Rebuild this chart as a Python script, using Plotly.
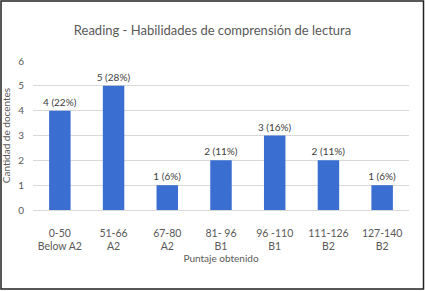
import plotly.graph_objects as go

ranges = ["0-50", "51-66", "67-80", "81- 96", "96 -110", "111-126", "127-140"]
levels = ["Below A2", "A2", "A2", "B1", "B1", "B2", "B2"]
counts = [4, 5, 1, 2, 3, 2, 1]
percents = ["22%", "28%", "6%", "11%", "16%", "11%", "6%"]

labels = [f"{r}<br>{l}" for r, l in zip(ranges, levels)]
texts = [f"{c} ({p})" for c, p in zip(counts, percents)]

W, H = 425, 291
L, R, T, B = 33, 16, 61, 81
pw, ph = W - L - R, H - T - B

fig = go.Figure(go.Bar(
    x=labels, y=counts, text=texts, textposition="outside",
    textfont=dict(size=10, color="#404040"), textangle=0,
    constraintext="none",
    marker=dict(color="#3A6ED0", line=dict(width=0)),
    cliponaxis=False,
))

fig.update_layout(
    width=W, height=H,
    margin=dict(l=L, r=R, t=T, b=B, autoexpand=False),
    paper_bgcolor="white", plot_bgcolor="white",
    font=dict(family="Lato, Liberation Sans, sans-serif", color="#595959", size=10),
    title=dict(text="Reading - Habilidades de comprensión de lectura",
               x=0.5, xref="container", y=1 - 30 / H, yref="container",
               xanchor="center", yanchor="middle",
               font=dict(size=13, color="#595959")),
    bargap=0.6,
    showlegend=False,
    xaxis=dict(title=dict(text="Puntaje obtenido", font=dict(size=10), standoff=2),
               tickfont=dict(size=10.5), showgrid=False, showline=True,
               linecolor="#d9d9d9", linewidth=1, ticks="", automargin=False,
               ticklabelstandoff=13),
    yaxis=dict(title=dict(text="Cantidad de docentes", font=dict(size=10), standoff=8),
               range=[0, 6], dtick=1, tickfont=dict(size=10),
               showgrid=True, gridcolor="#d9d9d9", zeroline=False,
               showline=False, ticks="", automargin=False, ticklabelstandoff=8),
    shapes=[dict(type="rect", xref="paper", yref="paper",
                 x0=(1 - L) / pw, x1=(W - 1.5 - L) / pw,
                 y0=(H - B - (H - 2)) / ph, y1=(H - B - 1) / ph,
                 line=dict(color="#222222", width=1.5))],
)

fig.write_html("out.html", config={"displayModeBar": False},
               post_script="document.body.style.margin='0px';document.body.style.overflow='hidden';")
